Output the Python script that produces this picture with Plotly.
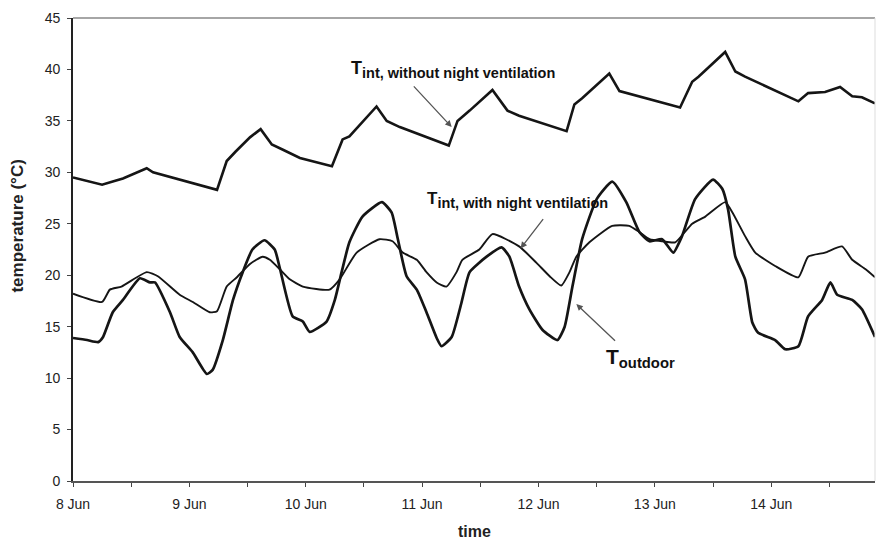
import pandas as pd
import plotly.graph_objects as go

START = pd.Timestamp("2002-06-08 00:00")

# T_int without night ventilation (hours since 8 Jun 00:00, °C)
hours_nonv = [0, 6.0, 8.2, 10.3, 15.2, 16.5, 29.7, 31.7, 33.5, 36.5, 38.7, 41.0, 43.3, 46.8,
              53.4, 55.6, 57.0, 62.6, 64.7, 67.4, 77.5, 79.3, 81.8, 86.5, 89.6, 92.0, 101.8,
              103.4, 105.0, 110.6, 112.7, 125.2, 127.7, 129.0, 134.5, 136.6, 138.6, 149.6,
              151.6, 155.1, 158.2, 160.7, 162.7, 165.4]
t_nonv = [29.5, 28.8, 29.1, 29.4, 30.4, 30.0, 28.3, 31.1, 32.0, 33.4, 34.2, 32.7, 32.2, 31.4,
          30.6, 33.2, 33.5, 36.4, 35.0, 34.4, 32.6, 35.0, 36.0, 38.0, 36.0, 35.5, 34.0,
          36.6, 37.2, 39.6, 37.9, 36.3, 38.8, 39.3, 41.7, 39.8, 39.3, 36.9,
          37.7, 37.8, 38.3, 37.4, 37.3, 36.7]

# T_int with night ventilation
hours_nv = [0, 6.0, 7.6, 10.0, 15.2, 17.5, 22.0, 24.7, 28.2, 29.7, 31.7, 33.8, 36.5, 39.1,
            40.6, 42.6, 44.7, 47.4, 52.9, 55.0, 58.5, 63.2, 65.9, 68.0, 70.9, 72.9, 75.0,
            77.0, 79.1, 80.3, 83.8, 86.5, 92.0, 95.6, 98.3, 100.7, 102.4, 103.8, 106.5,
            111.2, 114.7, 116.8, 118.9, 121.5, 124.2, 127.7, 130.4, 134.5, 136.0, 138.6,
            140.7, 144.8, 149.6, 151.6, 155.1, 158.6, 160.7, 163.4, 165.4]
t_nv = [18.2, 17.4, 18.6, 18.9, 20.3, 19.9, 18.1, 17.4, 16.4, 16.5, 18.9, 19.8, 21.1, 21.8,
        21.5, 20.6, 19.6, 18.9, 18.6, 19.6, 22.2, 23.5, 23.3, 22.2, 21.5, 20.3, 19.3,
        18.9, 20.3, 21.5, 22.5, 24.0, 22.8, 21.2, 19.9, 19.0, 20.3, 21.8, 23.2,
        24.8, 24.8, 24.2, 23.5, 23.3, 23.2, 25.0, 25.7, 27.1, 26.1, 23.8,
        22.2, 20.9, 19.8, 21.8, 22.2, 22.8, 21.5, 20.6, 19.8]

# T_outdoor
hours_out = [0, 2.9, 5.2, 6.2, 8.2, 10.3, 13.8, 15.9, 16.9, 20.0, 22.0, 24.7, 27.6, 28.8, 30.9,
             33.0, 35.0, 37.0, 39.5, 41.6, 42.6, 45.3, 47.4, 48.8, 52.3, 54.0, 55.4, 57.0,
             59.7, 63.7, 65.7, 67.0, 68.8, 70.9, 72.9, 75.0, 76.0, 78.1, 80.1, 81.8, 85.3,
             88.4, 90.0, 92.0, 94.1, 96.8, 99.9, 101.4, 103.0, 105.0, 108.0, 111.2, 114.1,
             116.8, 118.9, 121.5, 123.8, 125.6, 128.3, 132.0, 133.9, 135.1, 136.6, 138.6,
             140.1, 141.3, 144.8, 146.9, 149.6, 151.6, 154.5, 156.2, 157.6, 160.7, 162.7, 165.4]
t_out = [13.9, 13.7, 13.5, 14.0, 16.4, 17.6, 19.7, 19.3, 19.3, 16.4, 14.0, 12.5, 10.4, 10.8, 13.7,
         17.6, 20.3, 22.5, 23.4, 22.5, 20.8, 16.0, 15.5, 14.5, 15.5, 17.6, 20.3, 23.2,
         25.7, 27.1, 26.1, 23.5, 19.9, 18.6, 16.4, 13.9, 13.1, 14.0, 17.3, 20.3, 21.8,
         22.7, 21.8, 18.9, 16.7, 14.7, 13.7, 15.0, 18.9, 23.5, 27.4, 29.1, 27.1,
         24.2, 23.3, 23.5, 22.2, 23.8, 27.4, 29.3, 28.4, 26.4, 21.8, 19.6,
         15.4, 14.4, 13.7, 12.8, 13.1, 16.0, 17.6, 19.3, 18.1, 17.6, 16.7, 14.0]

X_END_HOURS = 165.4
Y_TICKS = [0, 5, 10, 15, 20, 25, 30, 35, 40, 45]


def to_time(hours):
    return [START + pd.Timedelta(hours=h) for h in hours]


def t(h):
    return START + pd.Timedelta(hours=h)


FONT = "Arial, Liberation Sans, sans-serif"
LINE = "#151515"
TXT = "#222"


def label(main, sub, size_sub):
    return f"<b>{main}<sub><span style='font-size:{size_sub}px'>{sub}</span></sub></b>"


fig = go.Figure()
fig.add_trace(go.Scatter(x=to_time(hours_nonv), y=t_nonv, mode="lines",
                         line=dict(color=LINE, width=2.6), name="T_int without NV"))
fig.add_trace(go.Scatter(x=to_time(hours_nv), y=t_nv, mode="lines",
                         line=dict(color=LINE, width=1.9, shape="spline", smoothing=0.5),
                         name="T_int with NV"))
fig.add_trace(go.Scatter(x=to_time(hours_out), y=t_out, mode="lines",
                         line=dict(color=LINE, width=2.7, shape="spline", smoothing=0.5),
                         name="T_outdoor"))

arrow_col = "#555"
annotations = [
    dict(x=t(56.9), y=40.0, xref="x", yref="y", xanchor="left", yanchor="middle",
         text=label("T", "int, without night ventilation", 14.5), showarrow=False,
         font=dict(family=FONT, size=18, color="#111")),
    dict(x=t(78.1), y=34.4, ax=t(70.0), ay=38.5, xref="x", yref="y", axref="x", ayref="y",
         text="", showarrow=True, arrowhead=2, arrowsize=1, arrowwidth=1.3, arrowcolor=arrow_col),
    dict(x=t(72.5), y=27.3, xref="x", yref="y", xanchor="left", yanchor="middle",
         text=label("T", "int, with night ventilation", 14.5), showarrow=False,
         font=dict(family=FONT, size=17, color="#111")),
    dict(x=t(92.3), y=22.6, ax=t(97.2), ay=25.6, xref="x", yref="y", axref="x", ayref="y",
         text="", showarrow=True, arrowhead=2, arrowsize=1, arrowwidth=1.3, arrowcolor=arrow_col),
    dict(x=t(109.6), y=12.0, xref="x", yref="y", xanchor="left", yanchor="middle",
         text=label("T", "outdoor", 14.8), showarrow=False,
         font=dict(family=FONT, size=21, color="#111")),
    dict(x=t(103.8), y=17.2, ax=t(112.1), ay=13.5, xref="x", yref="y", axref="x", ayref="y",
         text="", showarrow=True, arrowhead=2, arrowsize=1, arrowwidth=1.3, arrowcolor=arrow_col),
    # axis titles
    dict(x=-0.069, y=0.551, xref="paper", yref="paper", xanchor="center", yanchor="middle",
         text="<b>temperature (°C)</b>", textangle=-90, showarrow=False,
         font=dict(family=FONT, size=17, color=TXT)),
    dict(x=0.501, y=-0.108, xref="paper", yref="paper", xanchor="center", yanchor="middle",
         text="<b>time</b>", showarrow=False,
         font=dict(family=FONT, size=16, color=TXT)),
]

fig.update_layout(
    width=876, height=540,
    margin=dict(l=73, r=1, t=18, b=59, autoexpand=False),
    paper_bgcolor="white", plot_bgcolor="white",
    showlegend=False,
    font=dict(family=FONT, color=TXT),
    annotations=annotations,
    shapes=[
        dict(type="line", xref="paper", yref="paper", x0=0, x1=1, y0=1, y1=1,
             line=dict(color="#888", width=1.5)),
        dict(type="line", xref="paper", yref="paper", x0=1, x1=1, y0=0, y1=1,
             line=dict(color="#ddd", width=1)),
    ],
)
fig.update_xaxes(
    type="date", range=[START, t(X_END_HOURS)], automargin=False,
    tickformat="%-d %b", dtick=86400000, tick0=START,
    ticks="outside", ticklen=4, tickcolor="#444", tickwidth=1,
    minor=dict(dtick=43200000, ticks="outside", ticklen=4, tickcolor="#444"),
    showline=True, linecolor="#555", linewidth=1.5,
    showgrid=False, zeroline=False,
    ticklabelstandoff=5,
    tickfont=dict(family=FONT, size=14, color=TXT),
)
fig.update_yaxes(
    range=[0, 45], tickvals=Y_TICKS, automargin=False,
    ticks="outside", ticklen=4, tickcolor="#444",
    showline=True, linecolor="#222", linewidth=1.8,
    showgrid=False, zeroline=False,
    ticklabelstandoff=4,
    tickfont=dict(family=FONT, size=14, color=TXT),
)

fig.write_html("out.html", config={"displayModeBar": False},
               post_script="document.body.style.margin='0px';"
                           "document.body.style.overflow='hidden';")
